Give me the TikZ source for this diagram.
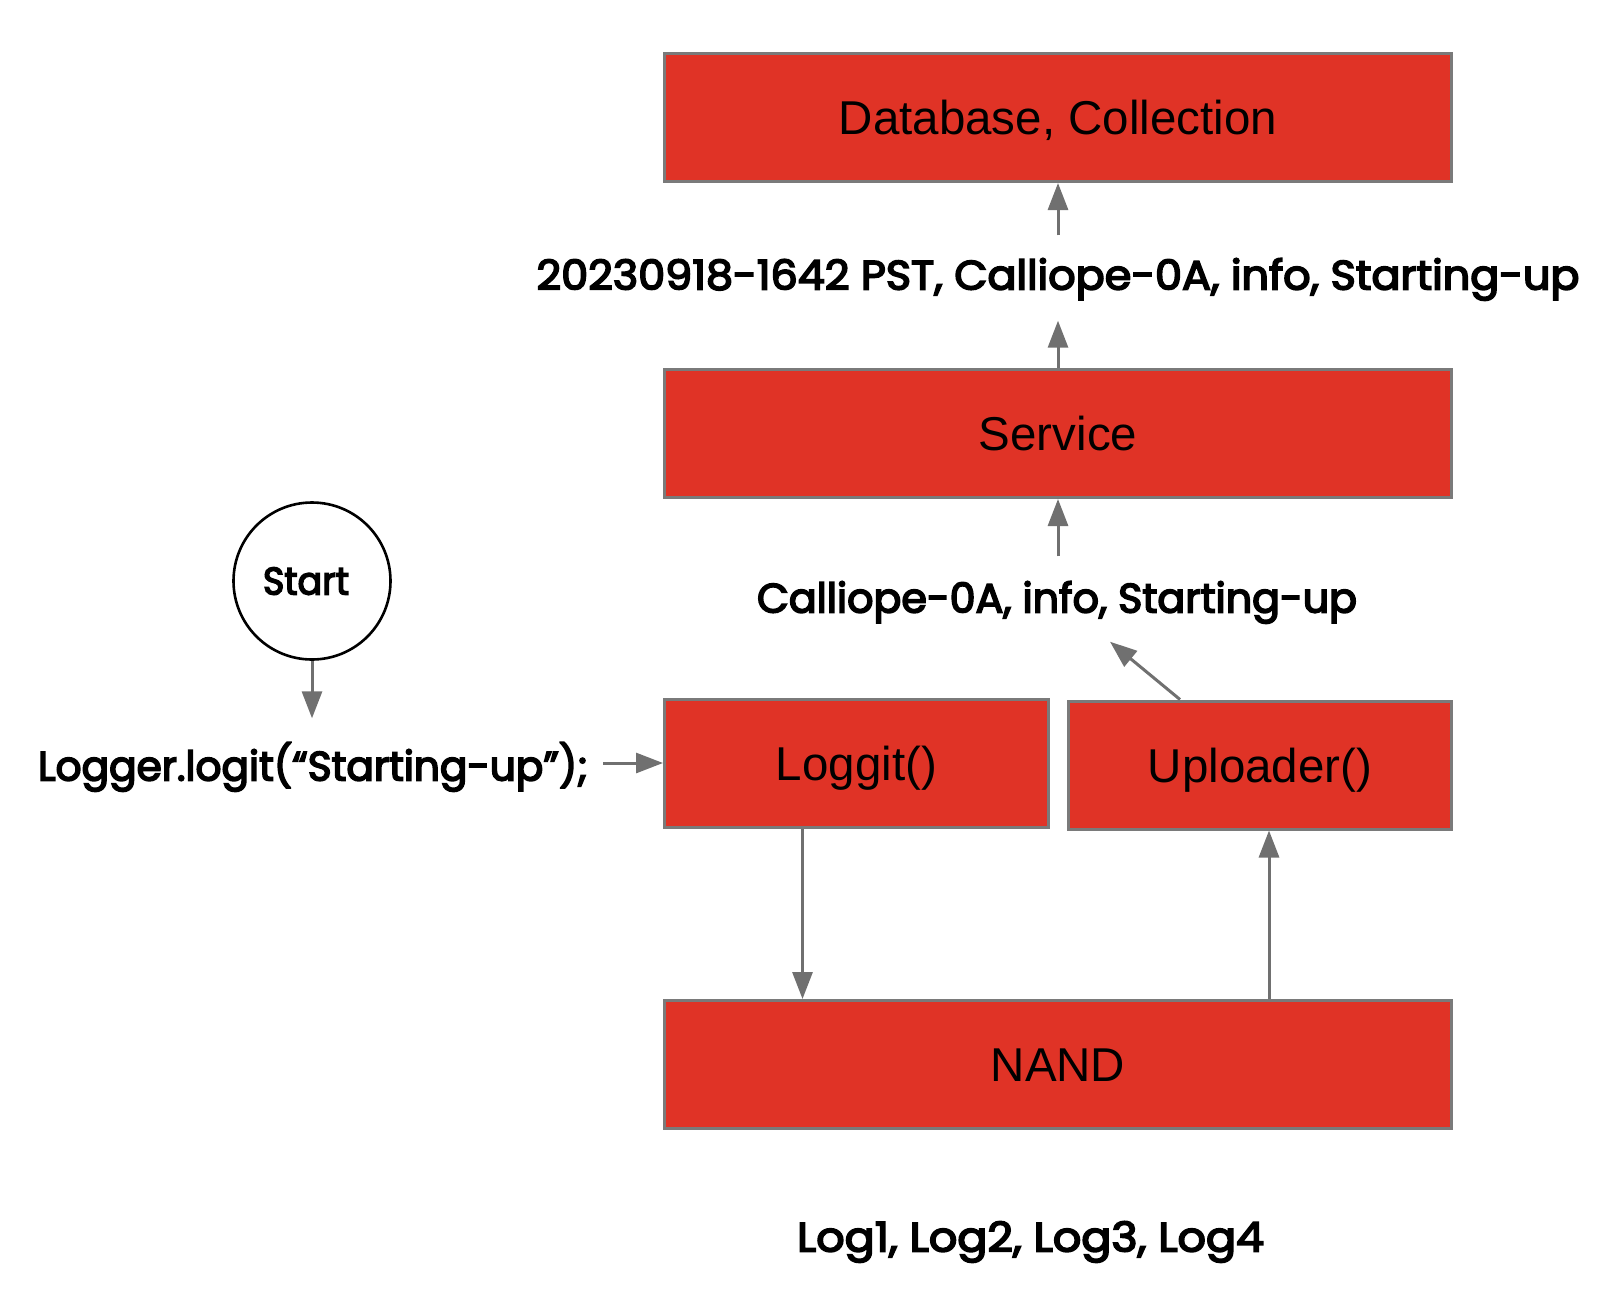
\documentclass[tikz,border=0pt]{standalone}
\usepackage{fontspec}
\usepackage{graphicx}
\setmainfont{Liberation Sans}
\newfontfamily\lab{Poppins}[FakeBold=4]
\usetikzlibrary{arrows.meta,calc}
\definecolor{boxred}{RGB}{224,51,38}
\definecolor{boxline}{RGB}{122,122,122}
\definecolor{arrgray}{RGB}{112,112,112}
\newlength\natw
\newcommand\fitlab[2]{\settowidth\natw{#2}\scalebox{\fpeval{#1/\natw}}[1]{#2}}
\tikzset{
  redbox/.style={rectangle, draw=boxline, line width=3pt, fill=boxred, inner sep=0pt,
    minimum height=128pt, text height=34pt, text depth=0pt,
    font=\fontsize{47.5}{50}\selectfont},
  labtext/.style={inner sep=0pt, text height=29pt, text depth=0pt,
    font=\lab\fontsize{41}{43}\selectfont},
  arr/.style={draw=arrgray, line width=3pt, -{Triangle[length=27pt,width=20pt]}, color=arrgray},
  startcircle/.style={circle, draw=black, line width=2.6pt, fill=white, minimum size=157pt, inner sep=0pt,
    text height=27pt, text depth=0pt, font=\lab\fontsize{38.5}{40}\selectfont}
}
\begin{document}
\begin{tikzpicture}[x=1pt,y=-1pt]
\useasboundingbox (0,0) rectangle (1604,1294);
\node[redbox, minimum width=787pt] (db) at (1058,117.5) {Database, Collection};
\node[redbox, minimum width=787pt] (service) at (1058,433.5) {Service};
\node[redbox, minimum width=384pt] (loggit) at (856.5,763) {Loggit()};
\node[redbox, minimum width=383pt] (uploader) at (1260,765) {Uploader()};
\node[redbox, minimum width=787pt] (nand) at (1058,1064.5) {NAND};
\node[startcircle] (start) at (312,581) {\fitlab{86}{Start}\kern12pt};
\node[labtext] (ts) at (1058,275) {\fitlab{1043}{20230918-1642 PST, Calliope-0A, info, Starting-up}};
\node[labtext] (cal) at (1057,598) {\fitlab{600}{Calliope-0A, info, Starting-up}};
\node[labtext] (logger) at (313,766) {\fitlab{550}{Logger.logit(“Starting-up”);}};
\node[labtext] (logs) at (1030.5,1237) {\fitlab{467}{Log1, Log2, Log3, Log4}};
% connectors
\coordinate (tsTail) at ([yshift=25pt]ts.north);
\draw[arr] (tsTail -| db) -- (db.south);
\coordinate (tsTip) at ([yshift=-31pt]ts.south);
\draw[arr] (service.north) -- (tsTip -| service);
\coordinate (calTail) at ([yshift=27pt]cal.north);
\draw[arr] (calTail -| service) -- (service.south);
\coordinate (upTail) at ([xshift=-80pt]uploader.north);
\coordinate (calTip) at ([xshift=53pt,yshift=-29pt]cal.south);
\draw[arr] (upTail) -- (calTip);
\coordinate (loggerTip) at ([yshift=33pt]logger.north);
\draw[arr] (start.south) -- (loggerTip -| start);
\coordinate (loggerE) at ([xshift=15pt]logger.east);
\draw[arr] (loggerE |- loggit.west) -- (loggit.west);
\coordinate (lgS) at ([xshift=-54pt]loggit.south);
\draw[arr] (lgS) -- (lgS |- nand.north);
\coordinate (upS) at ([xshift=9pt]uploader.south);
\draw[arr] (upS |- nand.north) -- (upS);
\end{tikzpicture}
\end{document}
